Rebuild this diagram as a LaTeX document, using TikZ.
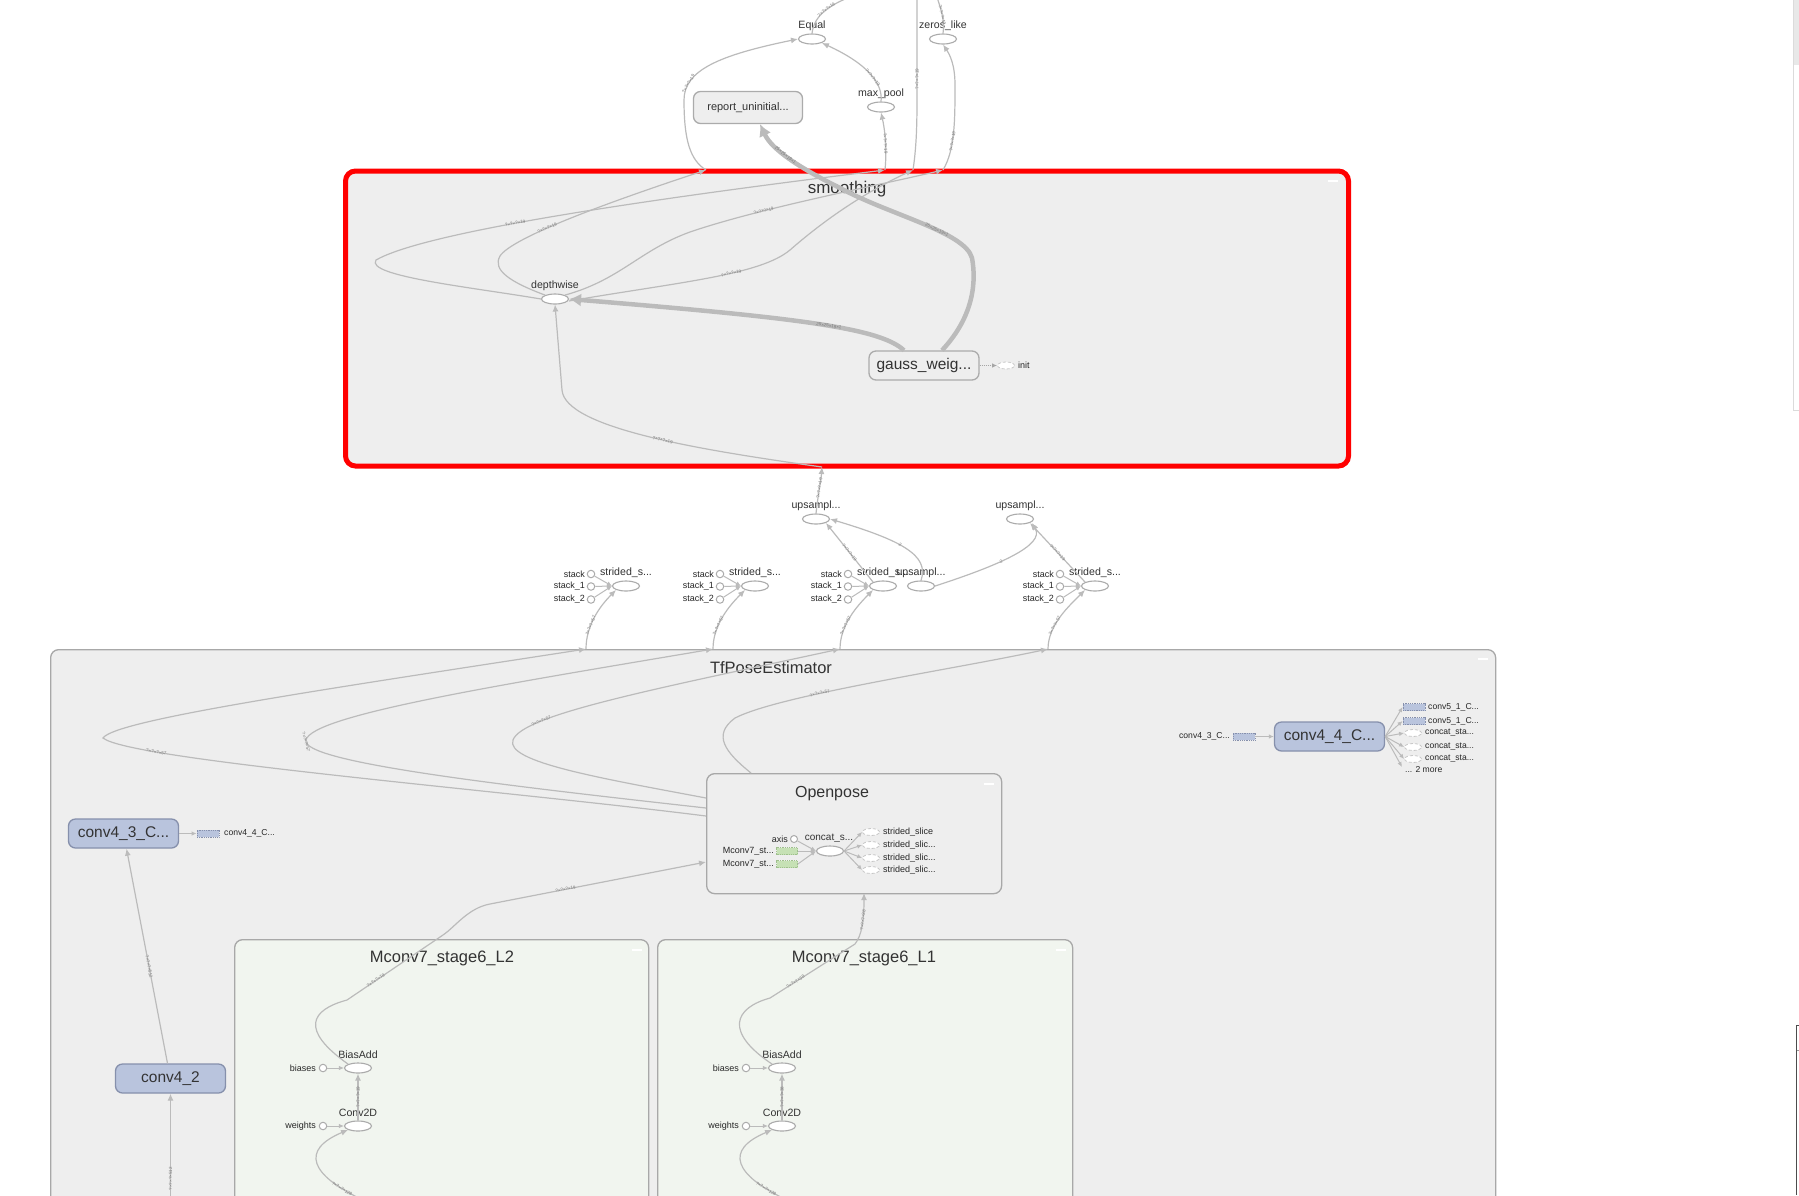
\documentclass[tikz,border=0pt]{standalone}
\usepackage{fontspec}
\setmainfont{Liberation Sans}
\usetikzlibrary{shapes.geometric,arrows.meta}
\newcommand{\fsz}[1]{\fontsize{#1}{#1}\selectfont}
\definecolor{edgec}{HTML}{BBBBBB}
\definecolor{grpfill}{HTML}{EEEEEE}
\definecolor{grpline}{HTML}{A8A8A8}
\definecolor{opline}{HTML}{ABABAB}
\definecolor{metafill}{HTML}{B9C4DD}
\definecolor{metaline}{HTML}{8690AC}
\definecolor{mgfill}{HTML}{F1F5EF}
\definecolor{gfill}{HTML}{C6E1B5}
\definecolor{gline}{HTML}{9FC08D}
\definecolor{txt}{HTML}{333333}
\definecolor{elabc}{HTML}{7A7A7A}
\begin{document}
\begin{tikzpicture}[x=1pt,y=-1pt,
 conn/.style={draw=edgec,line width=1.2pt,-{Latex[length=7pt,width=6pt]}},
 sconn/.style={draw=edgec,line width=1pt,-{Latex[length=5pt,width=4.5pt]}},
 pline/.style={draw=edgec,line width=1.2pt},
 fat/.style={draw=edgec,line width=4.5pt,-{Latex[length=12pt,width=13pt]}},
 op/.style={ellipse,draw=opline,fill=white,line width=1.1pt,minimum width=27pt,minimum height=10pt,inner sep=0pt},
 cst/.style={circle,draw=opline,fill=white,line width=1pt,minimum size=7.5pt,inner sep=0pt},
 lbl/.style={text=txt,font=\fsz{10.6},inner sep=0pt},
 slbl/.style={text=black!85,font=\fsz{9},inner sep=0pt},
 meta/.style={rectangle,rounded corners=7pt,draw=metaline,fill=metafill,line width=1.3pt,minimum width=110pt,minimum height=29pt,text=txt,font=\fsz{15.5}},
 gbox/.style={rectangle,rounded corners=7pt,draw=opline,fill=grpfill,line width=1.3pt,text=txt},
 grp/.style={rectangle,rounded corners=8pt,draw=grpline,fill=grpfill,line width=1.3pt,anchor=north west,inner sep=0pt},
 ttl/.style={text=txt,font=\fsz{16.5},inner sep=0pt},
 elab/.style={text=elabc,font=\fsz{4.5},inner sep=0.5pt,sloped},
 drect/.style={rectangle,draw=metaline,densely dotted,fill=metafill,minimum width=22pt,minimum height=7pt,inner sep=0pt,line width=0.8pt},
 grect/.style={rectangle,draw=gline,densely dotted,fill=gfill,minimum width=21pt,minimum height=7pt,inner sep=0pt,line width=0.8pt},
 dell/.style={ellipse,draw=black!22,densely dashed,fill=white,minimum width=17pt,minimum height=7pt,inner sep=0pt,line width=0.8pt},
 mns/.style={draw=white,line width=1.6pt}
]
\useasboundingbox (0,0) rectangle (1799,1195);
\clip (0,0) rectangle (1799,1195);
\fill[white] (0,0) rectangle (1799,1195);

% right panel pieces
\fill[black!9] (1793,0) rectangle (1799,65);
\draw[black!14,line width=1pt] (1793,0) -- (1793,410) -- (1799,410);
\draw[black!70,line width=0.8pt] (1799,1025) -- (1796.5,1025) -- (1796.5,1195);
\draw[black!40,line width=0.6pt] (1796.5,1050) -- (1799,1050);

% ---------- groups ----------
\node[grp,draw=red,line width=5pt,rounded corners=10pt,minimum width=1003pt,minimum height=295pt] (smooth) at (343,168.5) {};
\node[grp,minimum width=1445pt,minimum height=600pt] (tfpose) at (50,649) {};
\node[grp,minimum width=295pt,minimum height=120pt] (openpose) at (706,773) {};
\node[grp,fill=mgfill,minimum width=414pt,minimum height=300pt] (mL2) at (234,939) {};
\node[grp,fill=mgfill,minimum width=415pt,minimum height=300pt] (mL1) at (657,939) {};

\node[ttl,font=\fsz{17}] (tsmooth) at (847,189) {smoothing};
\node[ttl] (ttf) at (771,668) {TfPoseEstimator};
\node[ttl,font=\fsz{16}] (topen) at (832,794) {Openpose};
\node[ttl] (tL2) at (442,958) {Mconv7\_stage6\_L2};
\node[ttl] (tL1) at (864,958) {Mconv7\_stage6\_L1};

\draw[mns] (1328,181) -- (1338,181);
\draw[mns] (1478,659) -- (1488,659);
\draw[mns] (984,784) -- (994,784);
\draw[mns] (632,950) -- (642,950);
\draw[mns] (1056,950) -- (1066,950);

% ---------- top nodes ----------
\node[op] (equal) at (812,39) {};
\node[lbl] (lequal) at (812,25.5) {Equal};
\node[op] (zeros) at (943,39) {};
\node[lbl] (lzeros) at (943,25.5) {zeros\_like};
\node[op] (maxpool) at (881,107) {};
\node[lbl] (lmaxpool) at (881,93.5) {max\_pool};
\node[gbox,minimum width=109pt,minimum height=32pt,font=\fsz{11}] (report) at (748,107.5) {report\_uninitial...};

% ---------- smoothing content ----------
\node[op] (depth) at (555,299) {};
\node[lbl] (ldepth) at (555,285.5) {depthwise};
\node[gbox,minimum width=110pt,minimum height=29pt,font=\fsz{15.5}] (gauss) at (924,365.5) {gauss\_weig...};
\node[dell] (init) at (1006,365.5) {};
\node[slbl,anchor=west] (linit) at (1018,365.5) {init};

\coordinate (b1) at (706,170);
\coordinate (b2) at (885,170);
\coordinate (b3) at (913,170);
\coordinate (b4) at (943,170);
\coordinate (bb) at (822,467);
\coordinate (offa) at (917,-5);
\coordinate (offb) at (850,-3);
\coordinate (offc) at (937,-3);

% ---------- middle nodes ----------
\node[op] (up1) at (816,519) {};
\node[lbl] (lup1) at (816,505.5) {upsampl...};
\node[op] (up2) at (1020,519) {};
\node[lbl] (lup2) at (1020,505.5) {upsampl...};
\foreach \i/\x/\t in {1/626/586,2/755/713,3/883/840,4/1095/1048}{
  \node[op] (sg\i) at (\x,586) {};
  \node[lbl] (lsg\i) at (\x,572.5) {strided\_s...};
  \node[cst] (sa\i) at ({\x-35},574) {};
  \node[cst] (sb\i) at ({\x-35},586.5) {};
  \node[cst] (sc\i) at ({\x-35},599.5) {};
  \node[slbl,anchor=east] (lsa\i) at ({\x-41},574) {stack};
  \node[slbl,anchor=east] (lsb\i) at ({\x-41},586.5) {stack\_1};
  \node[slbl,anchor=east] (lsc\i) at ({\x-41},599.5) {stack\_2};
  \draw[sconn] (sa\i) -- (sg\i.west);
  \draw[sconn] (sb\i) -- (sg\i.west);
  \draw[sconn] (sc\i) -- (sg\i.west);
  \coordinate (t\i) at (\t,649);
  \draw[conn] (t\i) .. controls +(0,-24) and +(-16,16) .. (sg\i.south west) node[elab,pos=0.35]{?×?×?×57};
}
\node[op] (up3) at (921,586) {};
\node[lbl] (lup3) at (921,572.5) {upsampl...};

% ---------- TfPose nodes ----------
\node[meta] (conv43) at (123.5,833.5) {conv4\_3\_C...};
\node[drect] (c43out) at (208,833.5) {};
\node[slbl,anchor=west,font=\fsz{8.6}] (lc43out) at (224,833.5) {conv4\_4\_C...};
\node[meta] (conv42) at (170.5,1078.5) {conv4\_2};
\node[meta] (conv44) at (1329.5,736.5) {conv4\_4\_C...};
\node[drect] (c44in) at (1244,736.5) {};
\node[slbl,anchor=east,font=\fsz{8.6}] (lc44in) at (1230,736.5) {conv4\_3\_C...};
\node[drect] (o1) at (1414,707) {};
\node[drect] (o2) at (1414,721) {};
\node[dell] (o3) at (1413,733) {};
\node[dell] (o4) at (1413,747) {};
\node[dell] (o5) at (1413,759) {};
\coordinate (o6) at (1402,767);
\node[slbl,anchor=west,font=\fsz{8.6}] (lo1) at (1428,707) {conv5\_1\_C...};
\node[slbl,anchor=west,font=\fsz{8.6}] (lo2) at (1428,721) {conv5\_1\_C...};
\node[slbl,anchor=west,font=\fsz{8.6}] (lo3) at (1425,733) {concat\_sta...};
\node[slbl,anchor=west,font=\fsz{8.6}] (lo4) at (1425,747) {concat\_sta...};
\node[slbl,anchor=west,font=\fsz{8.6}] (lo5) at (1425,759) {concat\_sta...};
\node[slbl,anchor=west,font=\fsz{8.6}] (lmore) at (1405,770) {... 2 more};

% Openpose inner
\node[cst,minimum size=7pt] (axis) at (794,839) {};
\node[slbl,anchor=east] (laxis) at (788,839) {axis};
\node[op] (concat) at (830,851) {};
\node[lbl,font=\fsz{10}] (lconcat) at (829,838.5) {concat\_s...};
\node[grect] (mc1) at (787,851) {};
\node[grect] (mc2) at (787,864) {};
\node[slbl,anchor=east] (lmc1) at (774,851) {Mconv7\_st...};
\node[slbl,anchor=east] (lmc2) at (774,864) {Mconv7\_st...};
\node[dell] (so1) at (871,832) {};
\node[dell] (so2) at (871,845) {};
\node[dell] (so3) at (871,858) {};
\node[dell] (so4) at (871,870) {};
\node[slbl,anchor=west] (lso1) at (883,832) {strided\_slice};
\node[slbl,anchor=west] (lso2) at (883,845) {strided\_slic...};
\node[slbl,anchor=west] (lso3) at (883,858) {strided\_slic...};
\node[slbl,anchor=west] (lso4) at (883,870) {strided\_slic...};

% Mconv inner
\node[op] (baL2) at (358,1068) {};
\node[lbl] (lbaL2) at (358,1055) {BiasAdd};
\node[op] (cvL2) at (358,1126) {};
\node[lbl] (lcvL2) at (358,1113) {Conv2D};
\node[cst] (biL2) at (323,1068) {};
\node[slbl,anchor=east] (lbiL2) at (316,1068) {biases};
\node[cst] (wL2) at (323,1126) {};
\node[slbl,anchor=east] (lwL2) at (316,1126) {weights};
\node[op] (baL1) at (782,1068) {};
\node[lbl] (lbaL1) at (782,1055) {BiasAdd};
\node[op] (cvL1) at (782,1126) {};
\node[lbl] (lcvL1) at (782,1113) {Conv2D};
\node[cst] (biL1) at (746,1068) {};
\node[slbl,anchor=east] (lbiL1) at (739,1068) {biases};
\node[cst] (wL1) at (746,1126) {};
\node[slbl,anchor=east] (lwL1) at (739,1126) {weights};

\coordinate (op1) at (706,816);
\coordinate (op2) at (706,808);
\coordinate (op3) at (706,798);
\coordinate (op4) at (751,773);
\coordinate (op5) at (706,862);
\coordinate (op6) at (864,893);
\coordinate (inL2) at (363,1200);
\coordinate (inL1) at (787,1200);
\coordinate (in42) at (170.5,1200);

% ---------- edges: top ----------
\draw[conn] (b1) .. controls (690,160) and (684,140) .. (684,100) .. controls (684,70) and (720,55) .. (equal.west) node[elab,pos=0.2]{?×?×?×19};
\draw[conn] (maxpool.north) .. controls (883,85) and (870,65) .. (equal.south east) node[elab,pos=0.45]{?×?×?×19};
\draw[conn] (b2) .. controls (887,150) and (885,130) .. (maxpool.south) node[elab,pos=0.45]{?×?×?×19};
\draw[pline] (b3) .. controls (916,150) and (917,130) .. (917,100) -- (offa) node[elab,pos=0.2]{?×?×?×19};
\draw[conn] (b4) .. controls (955,150) and (955,120) .. (955,85) node[elab,pos=0.4]{?×?×?×19} .. controls (955,65) and (950,55) .. (zeros.south);
\draw[pline] (equal.north) .. controls (814,15) and (830,5) .. (offb) node[elab,pos=0.55]{?×?×?×19};
\draw[pline] (zeros.north) .. controls (945,20) and (941,10) .. (offc) node[elab,pos=0.5]{?×?×?×19};

% ---------- edges: smoothing ----------
\draw[fat] ([xshift=18pt]gauss.north) .. controls (975,315) and (976,280) .. (972,258) .. controls (965,232) and (890,215) .. (840,188) node[elab,pos=0.4]{25×25×19×1} .. controls (800,168) and (772,150) .. ([xshift=12pt]report.south) node[elab,pos=0.55]{25×25×19×1};
\draw[fat] ([xshift=-20pt]gauss.north) .. controls (880,328) and (800,318) .. (depth.east) node[elab,pos=0.45]{25×25×19×1};
\draw[conn] (depth.north west) .. controls (510,282) and (492,270) .. (500,256) .. controls (512,238) and (600,205) .. (b1) node[elab,pos=0.4]{?×?×?×19};
\draw[conn] (depth.west) .. controls (470,287) and (365,276) .. (376,260) .. controls (420,235) and (600,205) .. (b2) node[elab,pos=0.45]{?×?×?×19};
\draw[conn] (depth.north east) .. controls (620,280) and (640,250) .. (690,232) .. controls (760,208) and (880,185) .. (b4) node[elab,pos=0.3]{?×?×?×19};
\draw[conn] ([yshift=-2pt]depth.east) .. controls (680,282) and (760,275) .. (790,250) node[elab,pos=0.6]{?×?×?×19} .. controls (830,215) and (870,190) .. (b3);
\draw[conn] (bb) .. controls (700,450) and (565,428) .. (562,390) node[elab,pos=0.45]{?×?×?×19} -- (depth.south);
\draw[draw=black!35,line width=1pt,densely dotted,-{Latex[length=5pt,width=4.5pt]}] (gauss.east) -- (init.west);

% ---------- edges: middle ----------
\draw[conn] (up1.north) .. controls (818,495) and (821,480) .. (bb) node[elab,pos=0.5]{?×?×?×19};
\draw[conn] (sg3.north west) -- (up1.south east) node[elab,pos=0.5]{?×?×?×19};
\draw[conn] (up3.north) .. controls (930,555) and (900,540) .. (up1.east) node[elab,pos=0.55]{2};
\draw[conn] (up3.east) .. controls (1000,565) and (1045,545) .. ([xshift=2pt]up2.south east) node[elab,pos=0.4]{2};
\draw[conn] (sg4.north west) -- (up2.south east) node[elab,pos=0.5]{?×?×?×19};

% ---------- edges: TfPose ----------
\draw[conn] (op1) .. controls (500,790) and (130,760) .. (103,738) node[elab,pos=0.8]{?×?×?×57} .. controls (115,720) and (320,690) .. (t1);
\draw[conn] (op2) .. controls (500,785) and (300,762) .. (306,740) node[elab,pos=0.97]{?×?×?×57} .. controls (312,715) and (500,685) .. (t2);
\draw[conn] (op3) .. controls (600,778) and (505,762) .. (513,740) .. controls (522,715) and (650,690) .. (t3) node[elab,pos=0.25]{?×?×?×57};
\draw[conn] (op4) .. controls (725,752) and (712,735) .. (735,718) .. controls (780,695) and (950,670) .. (t4) node[elab,pos=0.35]{?×?×?×57};
\draw[conn] (baL2.north west) .. controls (300,1030) and (310,1010) .. (347,1000) -- (443,935) node[elab,pos=0.3]{?×?×?×19} .. controls (455,927) and (468,908) .. (490,904) -- (op5) node[elab,pos=0.35]{?×?×?×19};
\draw[conn] (baL1.north west) .. controls (724,1032) and (734,1008) .. (770,998) -- (855,944) node[elab,pos=0.3]{?×?×?×38} .. controls (862,935) and (864,920) .. (op6) node[elab,pos=0.6]{?×?×?×38};

\draw[conn] (cvL2.north) -- (baL2.south) node[elab,pos=0.5]{?×?×?×19};
\draw[sconn] (biL2) -- (baL2.west);
\draw[sconn] (wL2) -- (cvL2.west);
\draw[conn] (inL2) .. controls (310,1175) and (300,1150) .. (cvL2.south west) node[elab,pos=0.15]{?×?×?×128};
\draw[conn] (cvL1.north) -- (baL1.south) node[elab,pos=0.5]{?×?×?×38};
\draw[sconn] (biL1) -- (baL1.west);
\draw[sconn] (wL1) -- (cvL1.west);
\draw[conn] (inL1) .. controls (734,1175) and (724,1150) .. (cvL1.south west) node[elab,pos=0.15]{?×?×?×128};

\draw[conn] (in42) -- (conv42.south) node[elab,pos=0.2]{?×?×?×512};
\draw[conn] ([xshift=-3pt]conv42.north) -- ([xshift=3pt]conv43.south) node[elab,pos=0.45]{?×?×?×512};
\draw[sconn] (conv43.east) -- (c43out.west);
\draw[sconn] (c44in.east) -- (conv44.west);
\foreach \o in {o1,o2,o3,o4,o5}{\draw[sconn] (conv44.east) -- (\o.west);}
\draw[sconn] (conv44.east) -- (o6);

% Openpose inner edges
\draw[sconn] (axis) -- (concat.west);
\draw[sconn] (mc1.east) -- (concat.west);
\draw[sconn] (mc2.east) -- (concat.west);
\foreach \o in {so1,so2,so3,so4}{\draw[sconn] (concat.east) -- (\o.west);}
\end{tikzpicture}
\end{document}
